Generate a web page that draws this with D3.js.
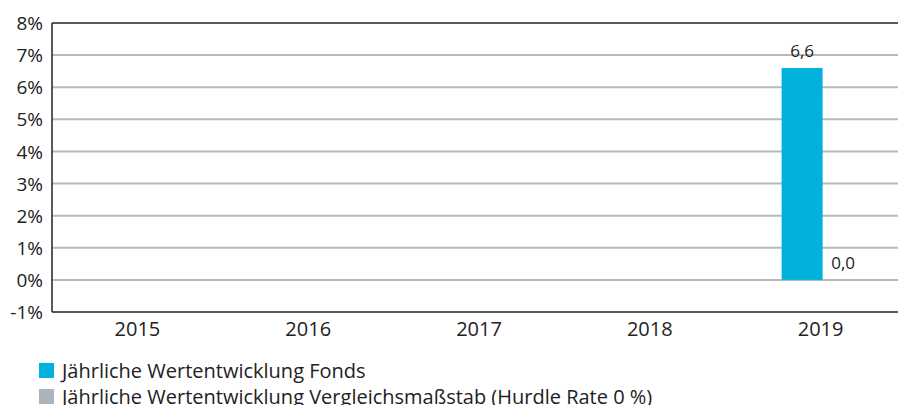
<!DOCTYPE html>
<html><head><meta charset="utf-8">
<script src="https://cdn.jsdelivr.net/npm/d3@7"></script>
<style>body{margin:0;background:#fff;} svg{display:block;font-family:"Open Sans",sans-serif;}</style>
</head><body>
<svg id="c" width="898" height="405"></svg>
<script>
const years = ["2015","2016","2017","2018","2019"];
const fonds = [null,null,null,null,6.6];
const benchmark = [null,null,null,null,0.0];
const seriesNames = ["Jährliche Wertentwicklung Fonds","Jährliche Wertentwicklung Vergleichsmaßstab (Hurdle Rate 0 %)"];
const seriesColors = ["#00b1de","#abb4bb"];
const yTicks = [-1,0,1,2,3,4,5,6,7,8];

(function(){
const svg = d3.select("#c");
const pLeft = 52, pRight = 906, pTop = 23, pBottom = 312;
const x = d3.scaleBand().domain(years).range([pLeft, pRight]);
const y = d3.scaleLinear().domain([-1, 8]).range([pBottom, pTop]);
const inner = d3.scaleBand().domain([0,1]).range([0, 82]);

// gridlines
svg.append("g").selectAll("line").data(yTicks.filter(t => t > -1 && t < 8)).join("line")
  .attr("x1", pLeft).attr("x2", 898).attr("y1", d => y(d)).attr("y2", d => y(d))
  .attr("stroke", "#b3bbc1").attr("stroke-width", 2);

// bars
const series = [fonds, benchmark];
series.forEach((vals, si) => {
  const g = svg.append("g");
  years.forEach((yr, i) => {
    const v = vals[i];
    if (v === null) return;
    const cx = x(yr) + x.bandwidth()/2 - 39 + inner(si);
    g.append("rect").attr("x", cx).attr("width", inner.bandwidth())
      .attr("y", y(Math.max(0, v))).attr("height", Math.abs(y(v) - y(0)))
      .attr("fill", seriesColors[si]);
    g.append("text").attr("x", cx + inner.bandwidth()/2).attr("y", y(Math.max(0,v)) - 10.5)
      .attr("text-anchor", "middle").attr("font-size", 17).attr("fill", "#222")
      .text(d3.format(".1f")(v).replace(".", ","));
  });
});

// frame: left, top, bottom
svg.append("line").attr("x1", pLeft).attr("x2", pLeft).attr("y1", pTop).attr("y2", pBottom).attr("stroke", "#222").attr("stroke-width", 1.5);
svg.append("line").attr("x1", pLeft).attr("x2", 898).attr("y1", pTop).attr("y2", pTop).attr("stroke", "#222").attr("stroke-width", 1.5);
svg.append("line").attr("x1", pLeft).attr("x2", 898).attr("y1", pBottom).attr("y2", pBottom).attr("stroke", "#222").attr("stroke-width", 1.5);

// y axis labels
const ya = svg.append("g").attr("transform", `translate(${pLeft},0)`)
  .call(d3.axisLeft(y).tickValues(yTicks).tickSize(0).tickPadding(9).tickFormat(d => d + "%"));
ya.select(".domain").remove();
ya.selectAll("text").attr("font-size", 19).attr("fill", "#222").attr("font-family", "Open Sans, sans-serif").attr("dy", "0.35em");

// x axis labels
const xa = svg.append("g").attr("transform", `translate(0,${pBottom})`)
  .call(d3.axisBottom(x).tickSize(0));
xa.select(".domain").remove();
xa.selectAll("text").attr("font-size", 20).attr("fill", "#222").attr("font-family", "Open Sans, sans-serif").attr("dy", null).attr("y", 24);

// legend
const lg = svg.append("g");
seriesNames.forEach((n, i) => {
  lg.append("rect").attr("x", 39).attr("y", 363 + i*26).attr("width", 15).attr("height", 15).attr("fill", seriesColors[i]);
  lg.append("text").attr("x", 62).attr("y", 377.5 + i*26).attr("font-size", 20).attr("fill", "#222").text(n);
});
})();
</script>
</body></html>
